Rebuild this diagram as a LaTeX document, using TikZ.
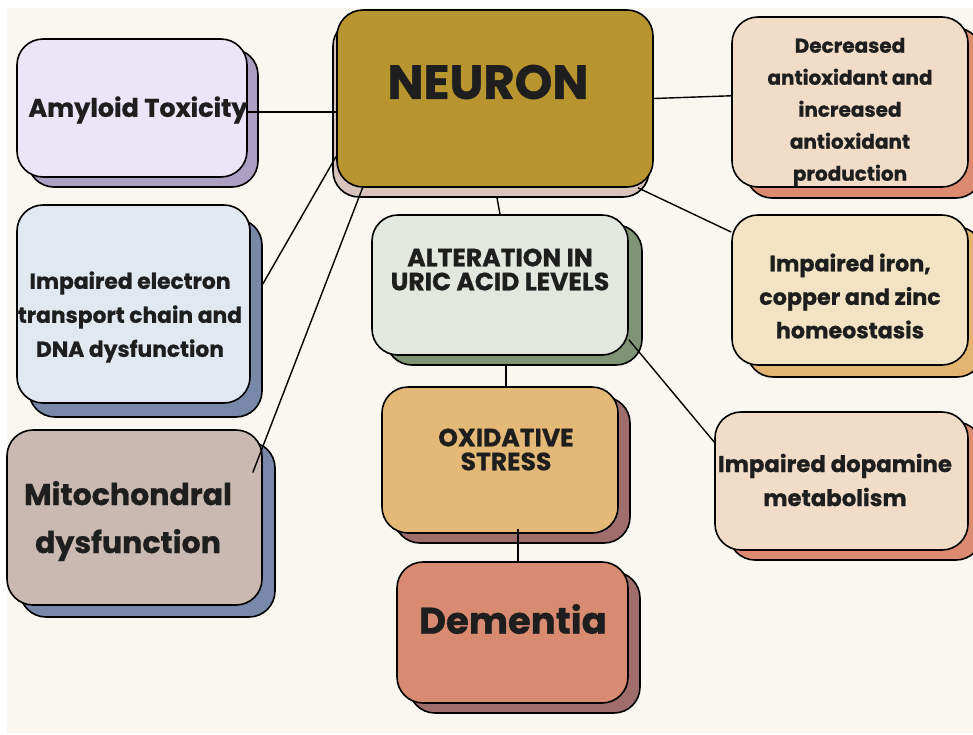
\documentclass[tikz,border=0pt]{standalone}
\usepackage{fontspec}
\setmainfont{Poppins}[BoldFeatures={FakeBold=0.8}]
\usetikzlibrary{shadows,calc}

\definecolor{paper}{HTML}{FAF6F0}
\definecolor{ink}{HTML}{1E1E1E}
\definecolor{amyFill}{HTML}{ECE5F8}
\definecolor{amyShade}{HTML}{AB9FC3}
\definecolor{neuFill}{HTML}{B8952F}
\definecolor{neuShade}{HTML}{D8C4BD}
\definecolor{peachFill}{HTML}{F1DCC8}
\definecolor{peachShade}{HTML}{DC8B70}
\definecolor{etcFill}{HTML}{E1E8F0}
\definecolor{blueShade}{HTML}{7788A8}
\definecolor{mitoFill}{HTML}{C9B9B0}
\definecolor{uricFill}{HTML}{E2E7DF}
\definecolor{uricShade}{HTML}{7F9474}
\definecolor{ironFill}{HTML}{F1E3C3}
\definecolor{ironShade}{HTML}{E3B46F}
\definecolor{oxFill}{HTML}{E4B977}
\definecolor{demFill}{HTML}{D98B71}
\definecolor{brownShade}{HTML}{9E6D6C}

\begin{document}
\begin{tikzpicture}[x=1pt,y=-1pt,
  box/.style n args={4}{draw=black,line width=1.6pt,rounded corners=26pt,fill=#1,
    copy shadow={fill=#2,draw=black,line width=1.6pt,shadow xshift=#3,shadow yshift=#4}},
  txt/.style={text=ink,align=center,inner sep=0pt},
  link/.style={draw=black,line width=1.4pt}]

 \useasboundingbox (0,0) rectangle (973,734);
 \fill[white] (0,0) rectangle (973,734);
 \fill[paper] (7,8) rectangle (973,733);

 % boxes
 \draw (495,98.5) node[box={neuFill}{neuShade}{-4pt}{-10pt},minimum width=316,minimum height=177] (neuron) {};
 \draw (132,108) node[box={amyFill}{amyShade}{11pt}{-10pt},minimum width=230,minimum height=138] (amyloid) {};
 \draw (850,102) node[box={peachFill}{peachShade}{14pt}{-11pt},minimum width=236,minimum height=170] (antiox) {};
 \draw (133.5,304) node[box={etcFill}{blueShade}{12pt}{-14pt},minimum width=233,minimum height=198] (etc) {};
 \draw (134.5,517.5) node[box={mitoFill}{blueShade}{13pt}{-12pt},minimum width=255,minimum height=175] (mito) {};
 \draw (500,285) node[box={uricFill}{uricShade}{14pt}{-10pt},minimum width=256,minimum height=140] (uric) {};
 \draw (850,290) node[box={ironFill}{ironShade}{15pt}{-12pt},minimum width=236,minimum height=150] (metals) {};
 \draw (500,460) node[box={oxFill}{brownShade}{12pt}{-10pt},minimum width=236,minimum height=146] (oxstress) {};
 \draw (512.5,632.5) node[box={demFill}{brownShade}{12pt}{-10pt},minimum width=231,minimum height=141] (dementia) {};
 \draw (841.5,481) node[box={peachFill}{peachShade}{14pt}{-10pt},minimum width=253,minimum height=138] (dopamine) {};

 % labels
 \draw (488,82) node[txt,font=\bfseries\fontsize{48}{52}\selectfont] (neuronT) {NEURON};
 \draw (138,110) node[txt,font=\bfseries\fontsize{25.5}{28}\selectfont] (amyloidT) {Amyloid Toxicity};
 \draw (850,112) node[txt,font=\bfseries\fontsize{20}{32}\selectfont] (antioxT) {Decreased\\antioxidant and\\increased\\antioxidant\\production};
 \draw (130,317) node[txt,font=\bfseries\fontsize{21.8}{34}\selectfont] (etcT) {Impaired electron\\transport chain and\\DNA dysfunction};
 \draw (128,521) node[txt,font=\bfseries\fontsize{30}{48}\selectfont] (mitoT) {Mitochondral\\dysfunction};
 \draw (500,269.5) node[txt,font=\bfseries\fontsize{25}{24}\selectfont] (uricT) {ALTERATION IN\\URIC ACID LEVELS};
 \draw (850,296) node[txt,font=\bfseries\fontsize{22.2}{33.5}\selectfont] (metalsT) {Impaired iron,\\copper and zinc\\homeostasis};
 \draw (506,449.5) node[txt,font=\bfseries\fontsize{25}{24}\selectfont] (oxstressT) {OXIDATIVE\\STRESS};
 \draw (513,619) node[txt,font=\bfseries\fontsize{37}{40}\selectfont] (dementiaT) {Dementia};
 \draw (835,480) node[txt,font=\bfseries\fontsize{22.8}{34}\selectfont] (dopamineT) {Impaired dopamine\\metabolism};

 % connections
 \path[link] (amyloid.-2) edge (amyloid.-2 -| neuron.west);
 \path[link] (neuron.200) edge ($(etc.east)+(12,-20)$);
 \path[link] (neuron.214) edge ($(mito.east)+(-10,-45)$);
 \path[link] (neuron.east) edge (antiox.177);
 \path[link] (neuron.-32) edge (metals.154);
 \path[link] ($(neuron.south)+(2,10)$) edge (uric.north);
 \path[link] (uric.-23) edge (dopamine.163);
 \path[link] ($(uric.south)+(6,10)$) edge ($(oxstress.north)+(6,0)$);
 \path[link] ($(oxstress.south)+(18,-5)$) edge ($(dementia.north)+(5.5,0)$);

\end{tikzpicture}
\end{document}
